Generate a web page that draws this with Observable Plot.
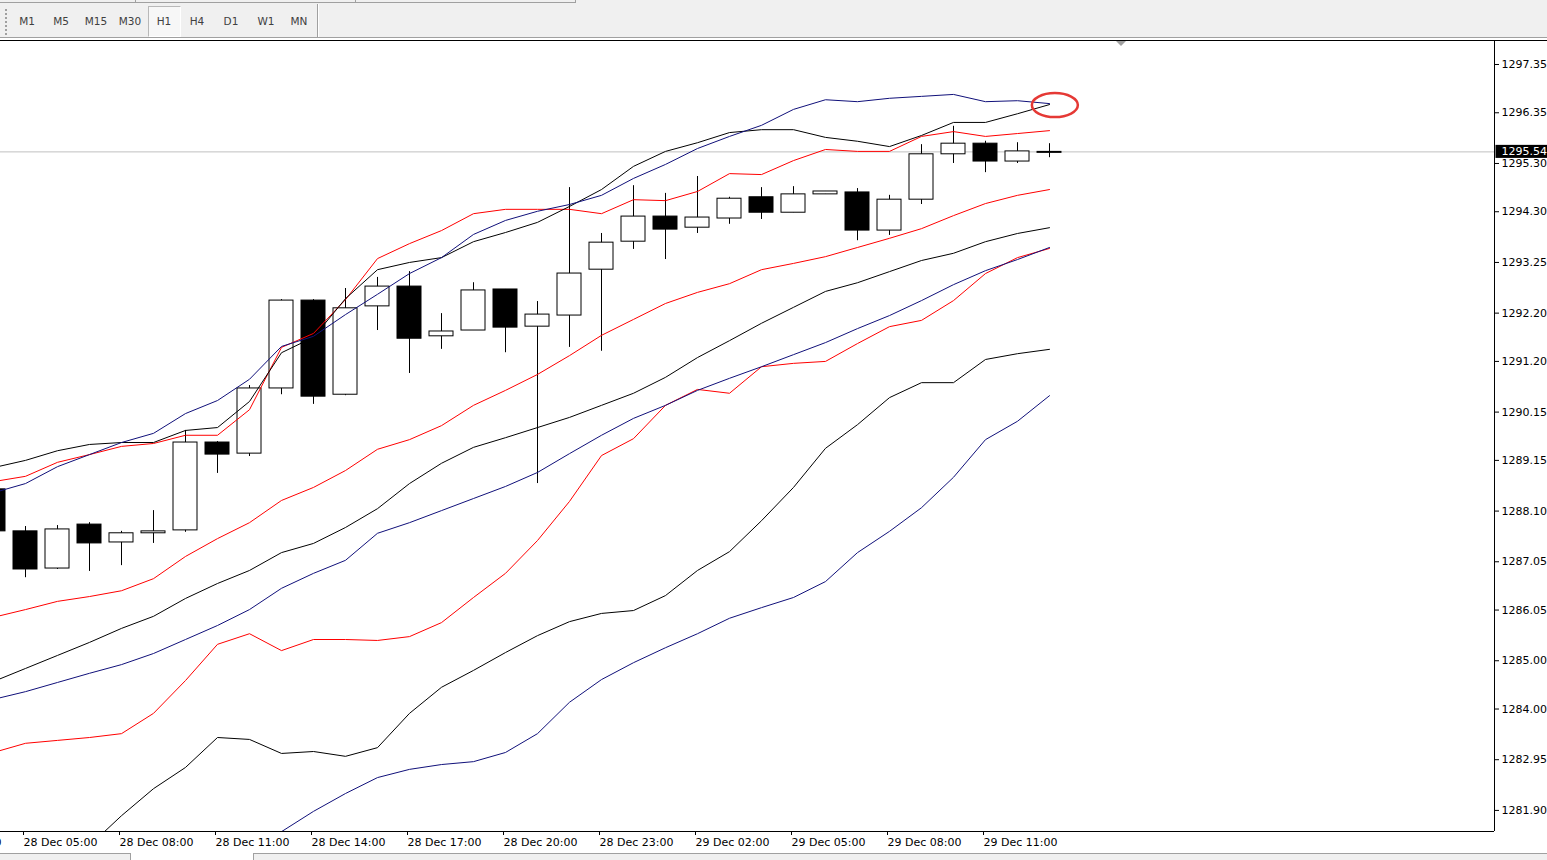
<!DOCTYPE html>
<html><head><meta charset="utf-8">
<script src="https://cdn.jsdelivr.net/npm/d3@7"></script>
<script src="https://cdn.jsdelivr.net/npm/@observablehq/plot@0.6"></script>
<style>
html,body{margin:0;padding:0;background:#fff;}
body{width:1547px;height:860px;position:relative;overflow:hidden;font-family:"DejaVu Sans",sans-serif;}
.abs{position:absolute;}
#tb{left:0;top:0;width:1547px;height:37px;background:#f0f0f0;border-bottom:1px solid #a0a0a0;}
#topstrip{left:0;top:0;width:575px;height:2px;border-bottom:1px solid #a0a0a0;border-right:1px solid #a0a0a0;}
#topsep1{left:135px;top:0;width:1px;height:3px;background:#a0a0a0;}
#topsep2{left:355px;top:0;width:1px;height:3px;background:#a0a0a0;}
.btn{position:absolute;top:15px;font-size:10.5px;line-height:12px;color:#404040;transform:translateX(-50%);white-space:nowrap;}
#sel{left:148px;top:6px;width:31px;height:29px;border:1px solid #b8b8b8;border-right-color:#fff;border-bottom-color:#fff;background:#f7f7f7;}
#sep{left:317px;top:4px;width:1px;height:33px;background:#a0a0a0;border-right:1px solid #fff;}
#grip{left:5px;top:9px;width:2px;height:26px;border-left:2px dotted #a0a0a0;}
#topline{left:0;top:40px;width:1547px;height:1px;background:#000;}
#chart{left:0;top:40px;}
#shift{left:1116px;top:41px;width:0;height:0;border-left:5px solid transparent;border-right:5px solid transparent;border-top:5px solid #a0a0a0;}
#bottom{left:0;top:853px;width:1547px;height:7px;background:#f0f0f0;border-top:1px solid #a0a0a0;}
#btab{left:130px;top:853px;width:122px;height:7px;background:#fff;border-left:1px solid #a0a0a0;border-right:1px solid #a0a0a0;}
</style></head><body>
<div id="tb" class="abs"></div>
<div id="topstrip" class="abs"></div>
<div id="topsep1" class="abs"></div>
<div id="topsep2" class="abs"></div>
<div id="grip" class="abs"></div>
<div id="sel" class="abs"></div>
<div id="sep" class="abs"></div>
<div id="buttons"></div>
<div id="chart" class="abs"></div>
<div id="topline" class="abs"></div>
<div id="shift" class="abs"></div>
<div id="bottom" class="abs"></div>
<div id="btab" class="abs"></div>
<script>
// ---- toolbar ----
const periods = ["M1","M5","M15","M30","H1","H4","D1","W1","MN"];
const periodCenters = [27,61,96,130,164,197,231,266,299];

// ---- candles (XAUUSD H1, 28 Dec 2018 04:00 .. 29 Dec 2018 13:00) ----
const times = ["2018-12-28 04:00","2018-12-28 05:00","2018-12-28 06:00","2018-12-28 07:00","2018-12-28 08:00","2018-12-28 09:00","2018-12-28 10:00","2018-12-28 11:00","2018-12-28 12:00","2018-12-28 13:00","2018-12-28 14:00","2018-12-28 15:00","2018-12-28 16:00","2018-12-28 17:00","2018-12-28 18:00","2018-12-28 19:00","2018-12-28 20:00","2018-12-28 21:00","2018-12-28 22:00","2018-12-28 23:00","2018-12-29 00:00","2018-12-29 01:00","2018-12-29 02:00","2018-12-29 03:00","2018-12-29 04:00","2018-12-29 05:00","2018-12-29 06:00","2018-12-29 07:00","2018-12-29 08:00","2018-12-29 09:00","2018-12-29 10:00","2018-12-29 11:00","2018-12-29 12:00","2018-12-29 13:00"];
const open  = [1288.55,1287.68,1286.91,1287.82,1287.45,1287.64,1287.70,1289.52,1289.29,1290.64,1292.46,1290.51,1292.34,1292.75,1291.72,1291.84,1292.69,1291.92,1292.15,1293.10,1293.68,1294.20,1293.97,1294.16,1294.60,1294.28,1294.66,1294.70,1293.91,1294.55,1295.49,1295.71,1295.34,1295.54];
const high  = [1288.55,1287.78,1287.80,1287.86,1287.68,1288.11,1289.77,1289.54,1290.70,1292.48,1292.48,1292.71,1292.94,1293.06,1292.19,1292.83,1292.69,1292.44,1294.80,1293.85,1294.84,1294.68,1295.03,1294.60,1294.80,1294.82,1294.72,1294.78,1294.64,1295.69,1296.07,1295.76,1295.73,1295.71];
const low   = [1287.66,1286.72,1286.89,1286.85,1286.97,1287.43,1287.66,1288.88,1289.23,1290.51,1290.31,1290.49,1291.84,1290.95,1291.45,1291.84,1291.38,1288.67,1291.49,1291.41,1293.52,1293.31,1293.85,1294.04,1294.14,1294.28,1294.66,1293.70,1293.81,1294.45,1295.30,1295.11,1295.30,1295.42];
const close = [1287.68,1286.89,1287.72,1287.43,1287.64,1287.68,1289.52,1289.27,1290.64,1292.46,1290.47,1292.30,1292.75,1291.67,1291.82,1292.67,1291.90,1292.17,1293.02,1293.66,1294.20,1293.93,1294.18,1294.57,1294.28,1294.66,1294.72,1293.91,1294.55,1295.49,1295.71,1295.34,1295.55,1295.54];

// ---- indicator bands ----
const redUpper   = [1288.71,1288.82,1289.11,1289.27,1289.44,1289.50,1289.67,1289.67,1290.20,1291.49,1291.78,1292.48,1293.33,1293.64,1293.91,1294.26,1294.35,1294.35,1294.35,1294.26,1294.55,1294.53,1294.72,1295.09,1295.07,1295.36,1295.59,1295.55,1295.55,1295.86,1295.96,1295.86,1295.92,1295.98];
const redMid     = [1285.90,1286.06,1286.23,1286.33,1286.45,1286.70,1287.16,1287.53,1287.86,1288.32,1288.59,1288.94,1289.38,1289.58,1289.87,1290.29,1290.60,1290.93,1291.32,1291.74,1292.07,1292.40,1292.63,1292.81,1293.10,1293.23,1293.37,1293.56,1293.75,1293.95,1294.22,1294.47,1294.64,1294.76];
const redLower   = [1283.10,1283.29,1283.35,1283.41,1283.49,1283.91,1284.59,1285.34,1285.56,1285.21,1285.44,1285.44,1285.42,1285.50,1285.79,1286.31,1286.81,1287.49,1288.30,1289.25,1289.60,1290.29,1290.62,1290.54,1291.09,1291.16,1291.20,1291.57,1291.92,1292.05,1292.46,1293.02,1293.35,1293.54];
const blackUpper = [1289.00,1289.15,1289.35,1289.48,1289.52,1289.52,1289.77,1289.83,1290.37,1291.38,1291.70,1292.50,1293.10,1293.25,1293.35,1293.68,1293.87,1294.08,1294.41,1294.76,1295.24,1295.55,1295.73,1295.94,1296.00,1296.00,1295.84,1295.76,1295.65,1295.88,1296.15,1296.15,1296.33,1296.52];
const blackMid   = [1284.57,1284.84,1285.11,1285.38,1285.67,1285.92,1286.29,1286.60,1286.87,1287.24,1287.43,1287.76,1288.15,1288.67,1289.09,1289.42,1289.62,1289.83,1290.04,1290.29,1290.54,1290.87,1291.28,1291.63,1291.99,1292.32,1292.65,1292.83,1293.06,1293.29,1293.44,1293.68,1293.85,1293.97];
const blackLower = [null,null,null,1281.17,1281.79,1282.35,1282.79,1283.41,1283.37,1283.08,1283.12,1283.02,1283.20,1283.91,1284.45,1284.80,1285.17,1285.52,1285.81,1285.98,1286.04,1286.35,1286.87,1287.26,1287.90,1288.59,1289.40,1289.89,1290.45,1290.76,1290.76,1291.24,1291.36,1291.45];
const blueUpper  = [1288.48,1288.67,1289.02,1289.27,1289.52,1289.71,1290.12,1290.39,1290.83,1291.51,1291.72,1292.17,1292.59,1293.02,1293.35,1293.83,1294.12,1294.31,1294.45,1294.64,1294.99,1295.28,1295.61,1295.86,1296.09,1296.42,1296.62,1296.58,1296.65,1296.69,1296.73,1296.58,1296.60,1296.54];
const blueMid    = [1284.20,1284.36,1284.55,1284.74,1284.92,1285.15,1285.44,1285.73,1286.06,1286.50,1286.81,1287.08,1287.64,1287.86,1288.11,1288.36,1288.61,1288.90,1289.29,1289.67,1290.02,1290.29,1290.60,1290.85,1291.09,1291.34,1291.59,1291.88,1292.15,1292.46,1292.79,1293.08,1293.31,1293.56];
const blueLower  = [null,null,null,null,null,null,null,null,1281.03,1281.46,1281.88,1282.25,1282.58,1282.75,1282.85,1282.91,1283.10,1283.49,1284.14,1284.61,1284.96,1285.27,1285.56,1285.88,1286.10,1286.31,1286.64,1287.24,1287.68,1288.17,1288.80,1289.58,1289.96,1290.49];

// ---- axes ----
const yTicks = [1297.35,1296.35,1295.30,1294.30,1293.25,1292.20,1291.20,1290.15,1289.15,1288.10,1287.05,1286.05,1285.00,1284.00,1282.95,1281.90];
const xTickTimes = ["2018-12-28 02:00","2018-12-28 05:00","2018-12-28 08:00","2018-12-28 11:00","2018-12-28 14:00","2018-12-28 17:00","2018-12-28 20:00","2018-12-28 23:00","2018-12-29 02:00","2018-12-29 05:00","2018-12-29 08:00","2018-12-29 11:00"];
const currentPrice = 1295.54;
const markTime = "2018-12-29 13:11";
const markPrice = 1296.50;

// ---- build ----
const parse = d3.utcParse("%Y-%m-%d %H:%M");
const H = 3600e3;
const t0 = +parse("2018-12-28 05:00");
const xDomain = [new Date(t0 - 0.78125 * H), new Date(t0 + 45.90625 * H)];
const yDomain = [1281.4631, 1297.8471];
const half = 0.375 * H;

const btns = document.getElementById("buttons");
periods.forEach((p, i) => {
  const s = document.createElement("div");
  s.className = "btn"; s.textContent = p; s.style.left = periodCenters[i] + "px";
  btns.appendChild(s);
});

const candles = times.map((t, i) => ({t: parse(t), open: open[i], high: high[i], low: low[i], close: close[i]}));
const series = vals => times.map((t, i) => ({t: parse(t), v: vals[i]})).filter(d => d.v != null);

const RED = "#ff0000", BLACK = "#000000", BLUE = "#10107a";
const bands = [
  [redUpper, RED], [redMid, RED], [redLower, RED],
  [blackUpper, BLACK], [blackMid, BLACK], [blackLower, BLACK],
  [blueUpper, BLUE], [blueMid, BLUE], [blueLower, BLUE]
];

const ellipse = (index, scales) => {
  const e = document.createElementNS("http://www.w3.org/2000/svg", "ellipse");
  e.setAttribute("cx", scales.x(parse(markTime)));
  e.setAttribute("cy", scales.y(markPrice));
  e.setAttribute("rx", 23); e.setAttribute("ry", 12);
  e.setAttribute("fill", "none"); e.setAttribute("stroke", "#e53935"); e.setAttribute("stroke-width", 2.5);
  return e;
};

const chart = Plot.plot({
  width: 1547, height: 813,
  marginLeft: 0, marginRight: 53, marginTop: 0, marginBottom: 22,
  style: {fontFamily: "DejaVu Sans", fontSize: "11px", color: "#000", background: "transparent"},
  x: {type: "utc", domain: xDomain},
  y: {domain: yDomain},
  marks: [
    Plot.ruleY([currentPrice], {stroke: "#c0c0c0"}),
    Plot.ruleX(candles, {x: "t", y1: "low", y2: "high", stroke: "#000", clip: true}),
    Plot.rect(candles.filter(d => d.open !== d.close), {
      x1: d => new Date(+d.t - half), x2: d => new Date(+d.t + half),
      y1: "open", y2: "close",
      fill: d => d.close > d.open ? "#ffffff" : "#000000", stroke: "#000", clip: true
    }),
    Plot.ruleY(candles.filter(d => d.open === d.close), {
      y: "close", x1: d => new Date(+d.t - 0.39 * H), x2: d => new Date(+d.t + 0.39 * H), stroke: "#000", strokeWidth: 2
    }),
    ...bands.map(([vals, c]) => Plot.line(series(vals), {x: "t", y: "v", stroke: c, strokeWidth: 1, clip: true})),
    Plot.axisY({anchor: "right", ticks: yTicks, tickFormat: d => d.toFixed(2), tickSize: 4, tickPadding: 3, label: null}),
    Plot.axisX({ticks: xTickTimes.map(parse), tickFormat: d3.utcFormat("%d %b %H:%M"), textAnchor: "start", dx: -2, tickSize: 4, tickPadding: 3, label: null}),
    Plot.ruleX([xDomain[1]], {stroke: "#000"}),
    Plot.ruleY([yDomain[0]], {stroke: "#000"}),
    Plot.rect([currentPrice], {
      x1: () => new Date(+xDomain[1] + (1.5 / 32) * H), x2: () => new Date(+xDomain[1] + (60 / 32) * H),
      y1: d => d - 0.135, y2: d => d + 0.135, fill: "#000"
    }),
    Plot.text([currentPrice], {
      x: () => new Date(+xDomain[1] + (7 / 32) * H), y: d => d, text: d => d.toFixed(2),
      fill: "#fff", textAnchor: "start", fontSize: 11
    }),
    ellipse
  ]
});
document.getElementById("chart").appendChild(chart);
</script>
</body></html>
